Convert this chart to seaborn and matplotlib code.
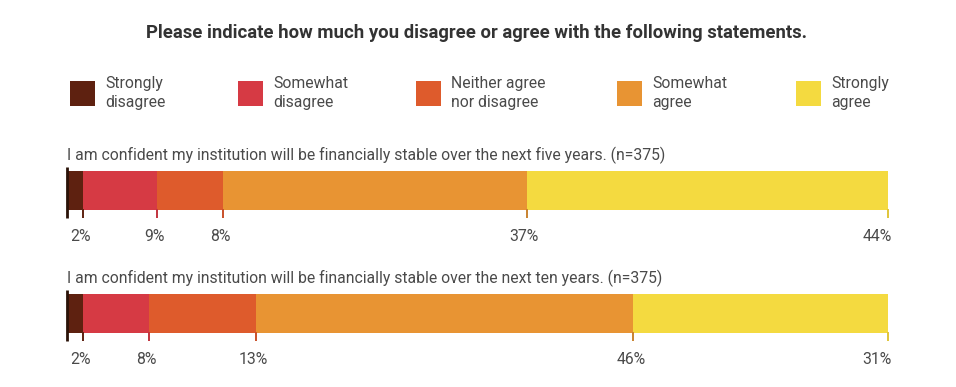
import numpy as np
import pandas as pd
import matplotlib
matplotlib.use("Agg")
import matplotlib.pyplot as plt
import seaborn as sns
from matplotlib.patches import Rectangle

# ---- data ----
questions = [
    "I am confident my institution will be financially stable over the next five years. (n=375)",
    "I am confident my institution will be financially stable over the next ten years. (n=375)",
]
categories = ["Strongly\ndisagree", "Somewhat\ndisagree", "Neither agree\nnor disagree",
              "Somewhat\nagree", "Strongly\nagree"]
strongly_disagree = [2, 2]
somewhat_disagree = [9, 8]
neither = [8, 13]
somewhat_agree = [37, 46]
strongly_agree = [44, 31]
colors = ["#5E2110", "#D63A44", "#DE5B2C", "#E89433", "#F4DA40"]
tick_colors = ["#5E2110", "#C2333D", "#C9502A", "#C98330", "#E0C53A"]

series = [strongly_disagree, somewhat_disagree, neither, somewhat_agree, strongly_agree]

rows = []
for ci, (cat, vals) in enumerate(zip(categories, series)):
    for qi, q in enumerate(questions):
        rows.append({"question": q, "category": cat, "value": vals[qi], "cidx": ci, "qidx": qi})
df = pd.DataFrame(rows)
df["cum"] = df.groupby("qidx")["value"].cumsum()

sns.set_theme(style="white")
plt.rcParams["font.family"] = ["Roboto", "DejaVu Sans"]

fig = plt.figure(figsize=(9.56, 3.87), dpi=100)
W, H = 956, 387
ax = fig.add_axes([67 / W, (H - 375) / H, 821 / W, 246 / H])

for ci in reversed(range(len(categories))):
    sub = df[df["cidx"] == ci]
    sns.barplot(data=sub, x="cum", y="question", order=questions, orient="h",
                color=colors[ci], saturation=1, width=0.317, errorbar=None, ax=ax,
                linewidth=0, edgecolor="none")

ax.set_xlim(0, 100)
ax.set_ylim(1.5, -0.5)
ax.set_axis_off()

half = 0.317 / 2
txt_color = "#4a4a4a"
fs = 11.3
for qi, q in enumerate(questions):
    ax.text(0, qi - 0.285, q, ha="left", va="center", fontsize=fs, color=txt_color)
    # left dark rule
    ax.plot([0, 0], [qi - half - 0.035, qi + half + 0.065], color="#2a1208", lw=2,
            solid_capstyle="butt", clip_on=False)
    sub = df[df["qidx"] == qi].sort_values("cidx")
    for _, r in sub.iterrows():
        c = r["cum"]
        ax.plot([c, c], [qi + half - 0.01, qi + half + 0.065], color=tick_colors[int(r["cidx"])],
                lw=1.4, solid_capstyle="butt", clip_on=False)
        ha = "right" if c >= 100 else "center"
        xx = c + 0.45 if c >= 100 else c - 0.3
        ax.text(xx, qi + 0.37, f"{int(r['value'])}%", ha=ha, va="center",
                fontsize=fs, color=txt_color)

# title
fig.text(477 / W, 1 - 33 / H,
         "Please indicate how much you disagree or agree with the following statements.",
         ha="center", va="center", fontsize=13.3, fontweight="bold", color="#333333")

# legend
sq_x = [70, 238, 416, 617, 796]
for x0, lab, col in zip(sq_x, categories, colors):
    fig.patches.append(Rectangle((x0 / W, 1 - 106 / H), 25 / W, 25 / H,
                                 transform=fig.transFigure, facecolor=col, edgecolor="none"))
    fig.text((x0 + 35) / W, 1 - 93 / H, lab, ha="left", va="center", fontsize=fs,
             color=txt_color, linespacing=1.3)

fig.savefig("out.png", dpi=100)
